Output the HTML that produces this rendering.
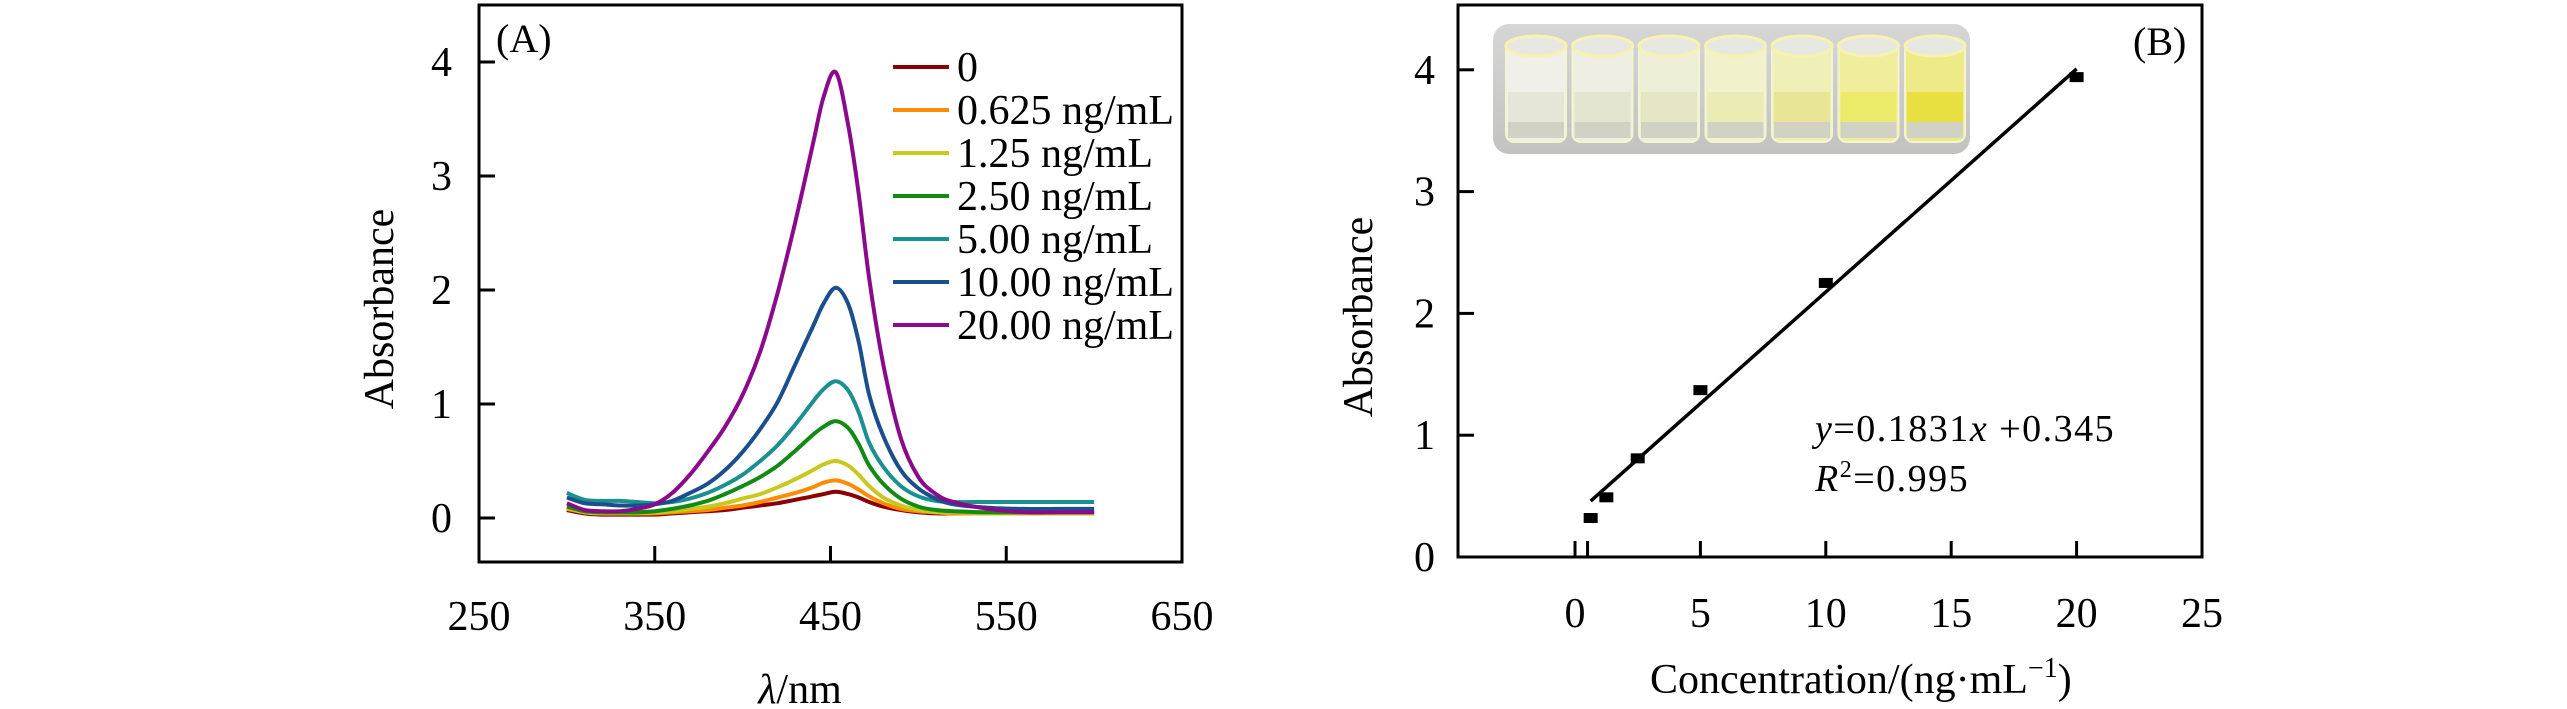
<!DOCTYPE html>
<html><head><meta charset="utf-8">
<style>
html,body{margin:0;padding:0;background:#fff;}
svg{display:block;}
svg text{font-family:"Liberation Serif","Times New Roman",serif;}
</style></head>
<body>
<svg id="chart" width="2567" height="709" viewBox="0 0 2567 709" xmlns="http://www.w3.org/2000/svg" font-family="Liberation Serif, serif">
<defs>
<linearGradient id="bgph" x1="0" y1="0" x2="0" y2="1"><stop offset="0" stop-color="#d6d6d6"/><stop offset="1" stop-color="#c2c2c0"/></linearGradient>
</defs>
<g id="panelA"></g>
<g id="panelB"></g>
</svg>
<script>
const NS='http://www.w3.org/2000/svg';
// ---- Panel A data ----
const wavelengths=[300,310,320,330,340,350,360,370,380,390,400,410,420,430,440,446,453,460,466,472,480,490,500,510,520,540,560,580,600];
const seriesLabels=['0','0.625 ng/mL','1.25 ng/mL','2.50 ng/mL','5.00 ng/mL','10.00 ng/mL','20.00 ng/mL'];
const seriesColors=['#8b0000','#ff8c00','#c8c81e','#138a13','#1a9090','#1a4f8c','#8b0a8b'];
const s0=[.07,.04,.03,.03,.03,.03,.04,.05,.06,.07,.09,.11,.13,.16,.19,.21,.23,.21,.18,.14,.10,.07,.05,.04,.04,.04,.04,.04,.04];
const s0625=[.08,.05,.04,.04,.04,.04,.05,.06,.07,.09,.11,.14,.18,.22,.27,.31,.33,.30,.25,.19,.13,.08,.06,.05,.04,.04,.04,.04,.04];
const s125=[.09,.05,.04,.04,.04,.05,.06,.08,.10,.13,.17,.21,.27,.34,.42,.47,.50,.46,.38,.28,.18,.11,.07,.05,.05,.04,.04,.04,.04];
const s250=[.10,.06,.05,.05,.05,.06,.08,.11,.15,.21,.28,.36,.46,.59,.73,.80,.85,.79,.65,.46,.30,.17,.10,.07,.06,.05,.05,.05,.05];
const s500=[.22,.16,.15,.15,.14,.13,.14,.17,.22,.29,.38,.50,.64,.82,1.02,1.13,1.20,1.12,.93,.66,.45,.28,.19,.15,.14,.14,.14,.14,.14];
const s1000=[.18,.13,.12,.11,.11,.12,.15,.22,.30,.42,.58,.78,1.02,1.35,1.68,1.88,2.02,1.88,1.55,1.08,.72,.42,.26,.17,.12,.09,.08,.08,.08];
const s2000=[.13,.07,.06,.06,.08,.12,.22,.38,.58,.80,1.08,1.46,1.98,2.6,3.28,3.69,3.91,3.45,2.85,2.10,1.35,.70,.36,.21,.14,.08,.05,.05,.05];
const spectra=[s0,s0625,s125,s250,s500,s1000,s2000];
const xTicksA=[250,350,450,550,650];
const yTicksA=[0,1,2,3,4];
// ---- Panel B data ----
const concentrations=[0.625,1.25,2.5,5,10,20];
const absorbances=[0.32,0.49,0.81,1.37,2.25,3.94];
const fitSlope=0.1831, fitIntercept=0.345;
const xTicksB=[0,5,10,15,20,25];
const xMinorB=[0.5];
const yTicksB=[0,1,2,3,4];

function el(tag,attrs,parent,text){const e=document.createElementNS(NS,tag);for(const k in attrs)e.setAttribute(k,attrs[k]);if(text!==undefined)e.textContent=text;parent.appendChild(e);return e;}
function smooth(pts){let d='M'+pts[0][0].toFixed(1)+','+pts[0][1].toFixed(1);for(let i=0;i<pts.length-1;i++){const p0=pts[i-1]||pts[i],p1=pts[i],p2=pts[i+1],p3=pts[i+2]||p2;const c1=[p1[0]+(p2[0]-p0[0])/6,p1[1]+(p2[1]-p0[1])/6],c2=[p2[0]-(p3[0]-p1[0])/6,p2[1]-(p3[1]-p1[1])/6];d+=' C'+c1[0].toFixed(1)+','+c1[1].toFixed(1)+' '+c2[0].toFixed(1)+','+c2[1].toFixed(1)+' '+p2[0].toFixed(1)+','+p2[1].toFixed(1);}return d;}

// Panel A
const A=document.getElementById('panelA');
const aL=479,aR=1182,aT=5,aB=562;
const xA=v=>aL+(v-250)/(650-250)*(aR-aL);
const yA=v=>518-v*114;
spectra.forEach((s,i)=>{
  const p=el('path',{d:smooth(wavelengths.map((w,j)=>[xA(w),yA(s[j])])),fill:'none',stroke:seriesColors[i],'stroke-width':4,'stroke-linejoin':'round'},A);
  
  
});
let f=el('rect',{x:aL,y:aT,width:aR-aL,height:aB-aT,fill:'none',stroke:'#000','stroke-width':3},A);

yTicksA.forEach(v=>{
  let t=el('line',{x1:aL,x2:aL+16,y1:yA(v),y2:yA(v),stroke:'#000','stroke-width':3},A);
  
  let l=el('text',{x:452,y:yA(v)+14,'font-size':42,'text-anchor':'end'},A,String(v));
  
});
xTicksA.forEach(v=>{
  if(v>250&&v<650){let t=el('line',{x1:xA(v),x2:xA(v),y1:aB,y2:aB-16,stroke:'#000','stroke-width':3},A);
  }
  let l=el('text',{x:xA(v),y:630,'font-size':42,'text-anchor':'middle'},A,String(v));
  
});
let yt=el('text',{x:0,y:0,'font-size':42,'text-anchor':'middle',transform:'translate(393,309) rotate(-90)'},A,'Absorbance');

let xt=el('text',{x:800,y:703,'font-size':42,'text-anchor':'middle'},A);

el('tspan',{'font-style':'italic'},xt,'λ');el('tspan',{},xt,'/nm');
let pa=el('text',{x:496,y:52,'font-size':40},A,'(A)');

seriesLabels.forEach((s,i)=>{
  const y=67+i*43;
  const g=el('g',{},A);
  
  el('line',{x1:893,x2:949,y1:y,y2:y,stroke:seriesColors[i],'stroke-width':4},g);
  el('text',{x:957,y:y+14,'font-size':42},g,s);
});

// Panel B
const B=document.getElementById('panelB');
const bL=1458,bR=2202,bT=5,bB=557;
const xB=v=>1575+v*25.08;
const yB=v=>557-v*121.8;
const ph=el('g',{},B);
el('rect',{x:1493,y:24,width:477,height:130,rx:16,fill:'url(#bgph)'},ph);
const cupFill=['#e6e6d8','#e4e4d0','#e6e6c4','#ebebb4','#e8e696','#ecea6a','#e8e040'];
const cupBody=['#f0f0e8','#eeeee2','#efefd8','#f1f1cc','#efefb8','#f0ee9c','#eeea88'];
for(let i=0;i<7;i++){
  const cx=1493+12+i*66.5+31;
  el('rect',{x:cx-30,y:40,width:60,height:102,rx:8,fill:cupBody[i],stroke:'#f4f4d0','stroke-width':2},ph);
  el('ellipse',{cx:cx,cy:46,rx:30,ry:10,fill:'#e8e8e2',stroke:'#f6f2b0','stroke-width':3},ph);
  el('rect',{x:cx-28,y:92,width:56,height:30,fill:cupFill[i]},ph);
  el('rect',{x:cx-28,y:122,width:56,height:16,fill:'#d2d2c4'},ph);
}
let fb=el('rect',{x:bL,y:bT,width:bR-bL,height:bB-bT,fill:'none',stroke:'#000','stroke-width':3},B);

yTicksB.forEach(v=>{
  if(v>0){let t=el('line',{x1:bL,x2:bL+16,y1:yB(v),y2:yB(v),stroke:'#000','stroke-width':3},B);
  }
  let l=el('text',{x:1435,y:yB(v)+14,'font-size':42,'text-anchor':'end'},B,String(v));
  
});
xTicksB.concat(xMinorB).forEach(v=>{
  if(v<25){let t=el('line',{x1:xB(v),x2:xB(v),y1:bB,y2:bB-16,stroke:'#000','stroke-width':3},B);
  }
});
xTicksB.forEach(v=>{
  let l=el('text',{x:xB(v),y:627,'font-size':42,'text-anchor':'middle'},B,String(v));
  
});
const x0=concentrations[0],x1=concentrations[concentrations.length-1];
let fl=el('line',{x1:xB(x0),y1:yB(fitSlope*x0+fitIntercept),x2:xB(x1),y2:yB(fitSlope*x1+fitIntercept),stroke:'#000','stroke-width':3.5},B);

concentrations.forEach((c,i)=>{
  let p=el('rect',{x:xB(c)-7,y:yB(absorbances[i])-5,width:14,height:10,fill:'#000'},B);
  
});
let eq=el('text',{x:1815,y:441,'font-size':38,'letter-spacing':1.5},B);

el('tspan',{'font-style':'italic'},eq,'y');el('tspan',{},eq,'=0.1831');el('tspan',{'font-style':'italic'},eq,'x');el('tspan',{},eq,' +0.345');
let r2=el('text',{x:1815,y:491,'font-size':38,'letter-spacing':1.5},B);

el('tspan',{'font-style':'italic'},r2,'R');el('tspan',{'font-size':24,dy:-14},r2,'2');el('tspan',{dy:14},r2,'=0.995');
let pb=el('text',{x:2133,y:55,'font-size':40},B,'(B)');

let ybt=el('text',{x:0,y:0,'font-size':42,'text-anchor':'middle',transform:'translate(1372,317) rotate(-90)'},B,'Absorbance');

let xbt=el('text',{x:1650,y:693,'font-size':42},B);

el('tspan',{},xbt,'Concentration/(ng·mL');el('tspan',{'font-size':28,dy:-16},xbt,'−1');el('tspan',{dy:16},xbt,')');
</script>
</body></html>
